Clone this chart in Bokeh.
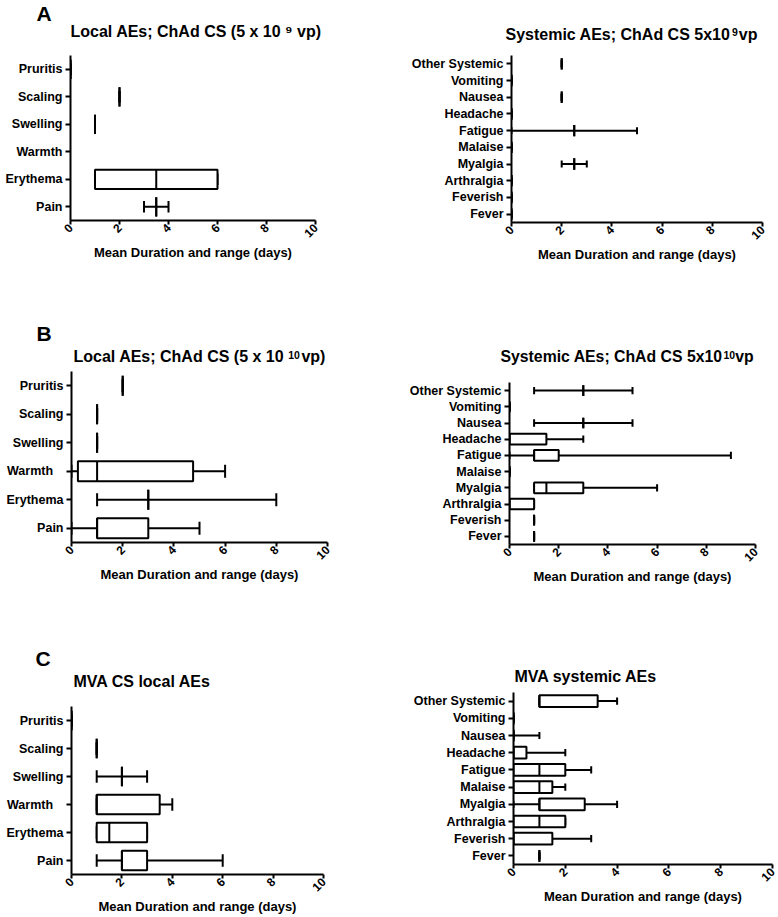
import math
from math import pi

from bokeh.plotting import figure
from bokeh.layouts import row, column
from bokeh.models import Range1d, FixedTicker, ColumnDataSource, Title
from bokeh.embed import file_html
from bokeh.resources import INLINE

NAN = float("nan")
NB = "\u00a0"

# ---------------- data ----------------
LOCAL_CATS = ["Pain", "Erythema", "Warmth", "Swelling", "Scaling", "Pruritis"]
SYS_CATS = ["Fever", "Feverish", "Arthralgia", "Myalgia", "Malaise", "Fatigue",
            "Headache", "Nausea", "Vomiting", "Other Systemic"]
LOCAL_LABELS_A = ["Pain", "Erythema", "Warmth", "Swelling", "Scaling", "Pruritis"]
LOCAL_LABELS_BC = ["Pain", "Erythema", "Warmth" + NB * 3, "Swelling", "Scaling", "Pruritis"]
X_TICKS = [0, 2, 4, 6, 8, 10]
X_LABEL = "Mean Duration and range (days)"

# titles: main text (gap left for the superscript) and superscript
TITLE_A_LOCAL = "Local AEs; ChAd CS (5 x 10 \u2079 vp)"
TITLE_A_SYS, SUP_A_SYS = "Systemic AEs; ChAd CS 5x10" + NB * 2 + "vp", "9"
TITLE_B_LOCAL, SUP_B_LOCAL = "Local AEs; ChAd CS (5 x 10" + NB * 4 + "vp)", "10"
TITLE_B_SYS, SUP_B_SYS = "Systemic AEs; ChAd CS 5x10" + NB * 3 + "vp", "10"
TITLE_C_LOCAL = "MVA CS local AEs"
TITLE_C_SYS = "MVA systemic AEs"

# Panel A, local (order = LOCAL_CATS)
a_loc_min = [3.0, 1.0, NAN, 1.0, 2.0, 0.0]
a_loc_q1 = [3.5, 1.0, NAN, 1.0, 2.0, 0.0]
a_loc_med = [3.5, 3.5, NAN, 1.0, 2.0, 0.0]
a_loc_q3 = [3.5, 6.0, NAN, 1.0, 2.0, 0.0]
a_loc_max = [4.0, 6.0, NAN, 1.0, 2.0, 0.0]

# Panel A, systemic (order = SYS_CATS)
a_sys_min = [0, 0, 0, 2.0, 0, 0.0, 0, 2, 0, 2]
a_sys_q1 = [0, 0, 0, 2.5, 0, 2.5, 0, 2, 0, 2]
a_sys_med = [0, 0, 0, 2.5, 0, 2.5, 0, 2, 0, 2]
a_sys_q3 = [0, 0, 0, 2.5, 0, 2.5, 0, 2, 0, 2]
a_sys_max = [0, 0, 0, 3.0, 0, 5.0, 0, 2, 0, 2]

# Panel B, local
b_loc_min = [0, 1, 0.0, 1, 1, 2]
b_loc_q1 = [1, 3, 0.25, 1, 1, 2]
b_loc_med = [1, 3, 1.0, 1, 1, 2]
b_loc_q3 = [3, 3, 4.75, 1, 1, 2]
b_loc_max = [5, 8, 6.0, 1, 1, 2]

# Panel B, systemic
b_sys_min = [1, 1, 0, 1.0, 0, 0, 0.0, 1, 0, 1]
b_sys_q1 = [1, 1, 0, 1.0, 0, 1, 0.0, 3, 0, 3]
b_sys_med = [1, 1, 0, 1.5, 0, 1, 0.0, 3, 0, 3]
b_sys_q3 = [1, 1, 1, 3.0, 0, 2, 1.5, 3, 0, 3]
b_sys_max = [1, 1, 1, 6.0, 0, 9, 3.0, 5, 0, 5]

# Panel C, local
c_loc_min = [1, 1.0, 1.0, 1, 1, 0]
c_loc_q1 = [2, 1.0, 1.0, 2, 1, 0]
c_loc_med = [2, 1.5, 1.0, 2, 1, 0]
c_loc_q3 = [3, 3.0, 3.5, 2, 1, 0]
c_loc_max = [6, 3.0, 4.0, 3, 1, 0]

# Panel C, systemic
c_sys_min = [1, 0.0, 0, 0.0, 0.0, 0, 0.0, 0, 0, 1.0]
c_sys_q1 = [1, 0.0, 0, 1.0, 0.0, 0, 0.0, 0, 0, 1.0]
c_sys_med = [1, 0.0, 1, 1.0, 1.0, 1, 0.0, 0, 0, 1.0]
c_sys_q3 = [1, 1.5, 2, 2.75, 1.5, 2, 0.5, 0, 0, 3.25]
c_sys_max = [1, 3.0, 2, 4.0, 2.0, 3, 2.0, 1, 0, 4.0]

# ---------------- style ----------------
FONT = "Liberation Sans"
BLACK = "#000000"
LW = 2
TITLE_PX = 16
LETTER_PX = 21
SUP_PX = 10.5
LINE_K = 1.11  # text box height / font size


def make_title(text, size_px, offset):
    t = Title(text=text)
    t.text_font = FONT
    t.text_font_style = "bold"
    t.text_font_size = f"{size_px}px"
    t.text_color = BLACK
    t.align = "left"
    t.offset = offset
    return t


def place_titles(p, frame_top, specs):
    """specs: list of (Title, size_px, wanted text-box centre, px from figure top),
    from the frame outwards; the last one becomes p.title (outermost)."""
    base = frame_top
    for t, size_px, centre in specs:
        h = LINE_K * size_px
        panel = 2 + 2 * (base - centre)
        t.standoff = panel - 2 - h
        base -= panel
    for t, _, _ in specs[:-1]:
        p.add_layout(t, "above")
    p.title = specs[-1][0]


def make_panel(cats, labels, vmin, q1, med, q3, vmax,
               fig_w, fig_h, b_left, b_top, frame_w, frame_h,
               box_h, cap_h, title_specs):
    n = len(cats)
    keep = [i for i in range(n) if not math.isnan(med[i])]
    ys = [i + 1 for i in keep]
    src = ColumnDataSource(dict(
        y=ys,
        vmin=[vmin[i] for i in keep],
        q1=[q1[i] for i in keep],
        med=[med[i] for i in keep],
        q3=[q3[i] for i in keep],
        vmax=[vmax[i] for i in keep],
        box_lo=[y - box_h / 2 for y in ys],
        box_hi=[y + box_h / 2 for y in ys],
        cap_lo=[y - cap_h / 2 for y in ys],
        cap_hi=[y + cap_h / 2 for y in ys],
    ))

    p = figure(width=fig_w, height=fig_h,
               x_range=Range1d(0, 10), y_range=Range1d(0.5, n + 0.5),
               output_backend="svg", toolbar_location=None,
               min_border_left=b_left, min_border_top=b_top,
               min_border_right=fig_w - b_left - frame_w,
               min_border_bottom=fig_h - b_top - frame_h)
    if "frame_align" in p.properties():
        p.frame_align = False
    p.outline_line_color = None
    p.grid.visible = False
    p.background_fill_color = "white"
    p.border_fill_color = "white"

    place_titles(p, b_top, title_specs)

    # x axis
    xa = p.xaxis[0]
    xa.ticker = FixedTicker(ticks=X_TICKS)
    xa.axis_label = X_LABEL
    xa.axis_label_text_font = FONT
    xa.axis_label_text_font_style = "bold"
    xa.axis_label_text_font_size = "13px"
    xa.axis_label_text_color = BLACK
    xa.axis_label_standoff = 1
    xa.major_label_orientation = pi / 4
    xa.major_label_text_font = FONT
    xa.major_label_text_font_style = "bold"
    xa.major_label_text_font_size = "12px"
    xa.major_label_text_color = BLACK
    xa.major_label_standoff = 1
    xa.axis_line_width = LW
    xa.axis_line_color = BLACK
    xa.major_tick_line_width = LW
    xa.major_tick_line_color = BLACK
    xa.major_tick_out = 4
    xa.major_tick_in = 0
    xa.minor_tick_line_color = None

    # y axis
    ya = p.yaxis[0]
    ya.ticker = FixedTicker(ticks=list(range(1, n + 1)))
    ya.major_label_overrides = {i + 1: labels[i] for i in range(n)}
    ya.major_label_text_font = FONT
    ya.major_label_text_font_style = "bold"
    ya.major_label_text_font_size = "12.5px"
    ya.major_label_text_color = BLACK
    ya.major_label_standoff = 3
    ya.axis_line_width = LW
    ya.axis_line_color = BLACK
    ya.major_tick_line_width = LW
    ya.major_tick_line_color = BLACK
    ya.major_tick_out = 5
    ya.major_tick_in = 0
    ya.minor_tick_line_color = None

    # whiskers and caps
    kw = dict(source=src, line_color=BLACK, line_width=LW)
    p.segment(x0="vmin", y0="y", x1="q1", y1="y", **kw)
    p.segment(x0="q3", y0="y", x1="vmax", y1="y", **kw)
    p.segment(x0="vmin", y0="cap_lo", x1="vmin", y1="cap_hi", **kw)
    p.segment(x0="vmax", y0="cap_lo", x1="vmax", y1="cap_hi", **kw)
    # box
    p.hbar(y="y", left="q1", right="q3", height=box_h, fill_color="white",
           line_color=BLACK, line_width=LW, source=src)
    # median
    p.segment(x0="med", y0="box_lo", x1="med", y1="box_hi", **kw)
    return p


LEFT_W = 388
RIGHT_W = 390
ROW_A, ROW_B, ROW_C = 0, 300, 626   # row tops (px)
SUP_RISE = 4.5                       # superscript centre above title centre
LETTER_FIX = 1.5

# --- row A ---
pa1 = make_panel(LOCAL_CATS, LOCAL_LABELS_A,
                 a_loc_min, a_loc_q1, a_loc_med, a_loc_q3, a_loc_max,
                 LEFT_W, 300, 70, 55, 245, 165, 0.7, 0.42,
                 [(make_title(TITLE_A_LOCAL, TITLE_PX, 0), TITLE_PX, 31 - ROW_A),
                  (make_title("A", LETTER_PX, -34), LETTER_PX, 13.4 - LETTER_FIX - ROW_A)])
pa2 = make_panel(SYS_CATS, SYS_CATS,
                 a_sys_min, a_sys_q1, a_sys_med, a_sys_q3, a_sys_max,
                 RIGHT_W, 300, 123, 55, 251, 167, 0.68, 0.42,
                 [(make_title(TITLE_A_SYS, TITLE_PX, -6), TITLE_PX, 33.7 - ROW_A),
                  (make_title(SUP_A_SYS, SUP_PX, 220.5), SUP_PX, 33.7 - SUP_RISE - ROW_A)])

# --- row B ---
pb1 = make_panel(LOCAL_CATS, LOCAL_LABELS_BC,
                 b_loc_min, b_loc_q1, b_loc_med, b_loc_q3, b_loc_max,
                 LEFT_W, 326, 71, 71, 256, 171, 0.7, 0.45,
                 [(make_title(TITLE_B_LOCAL, TITLE_PX, 2), TITLE_PX, 356.1 - ROW_B),
                  (make_title("B", LETTER_PX, -35), LETTER_PX, 333.7 - LETTER_FIX - ROW_B),
                  (make_title(SUP_B_LOCAL, SUP_PX, 216.7), SUP_PX, 356.1 - SUP_RISE - ROW_B)])
pb2 = make_panel(SYS_CATS, SYS_CATS,
                 b_sys_min, b_sys_q1, b_sys_med, b_sys_q3, b_sys_max,
                 RIGHT_W, 326, 121, 82, 246, 162, 0.66, 0.45,
                 [(make_title(TITLE_B_SYS, 15.8, -9), 15.8, 356.1 - ROW_B),
                  (make_title(SUP_B_SYS, SUP_PX, 214), SUP_PX, 356.1 - SUP_RISE - ROW_B)])

# --- row C ---
pc1 = make_panel(LOCAL_CATS, LOCAL_LABELS_BC,
                 c_loc_min, c_loc_q1, c_loc_med, c_loc_q3, c_loc_max,
                 LEFT_W, 291, 71, 80, 252, 168, 0.7, 0.45,
                 [(make_title(TITLE_C_LOCAL, TITLE_PX, 2), TITLE_PX, 680.4 - ROW_C),
                  (make_title("C", LETTER_PX, -36), LETTER_PX, 658 - LETTER_FIX - ROW_C)])
pc2 = make_panel(SYS_CATS, SYS_CATS,
                 c_sys_min, c_sys_q1, c_sys_med, c_sys_q3, c_sys_max,
                 RIGHT_W, 291, 125, 66, 259, 172, 0.68, 0.42,
                 [(make_title(TITLE_C_SYS, TITLE_PX, 1), TITLE_PX, 676.1 - ROW_C)])

layout = column(row(pa1, pa2), row(pb1, pb2), row(pc1, pc2))

with open("out.html", "w") as f:
    f.write(file_html(layout, INLINE))
